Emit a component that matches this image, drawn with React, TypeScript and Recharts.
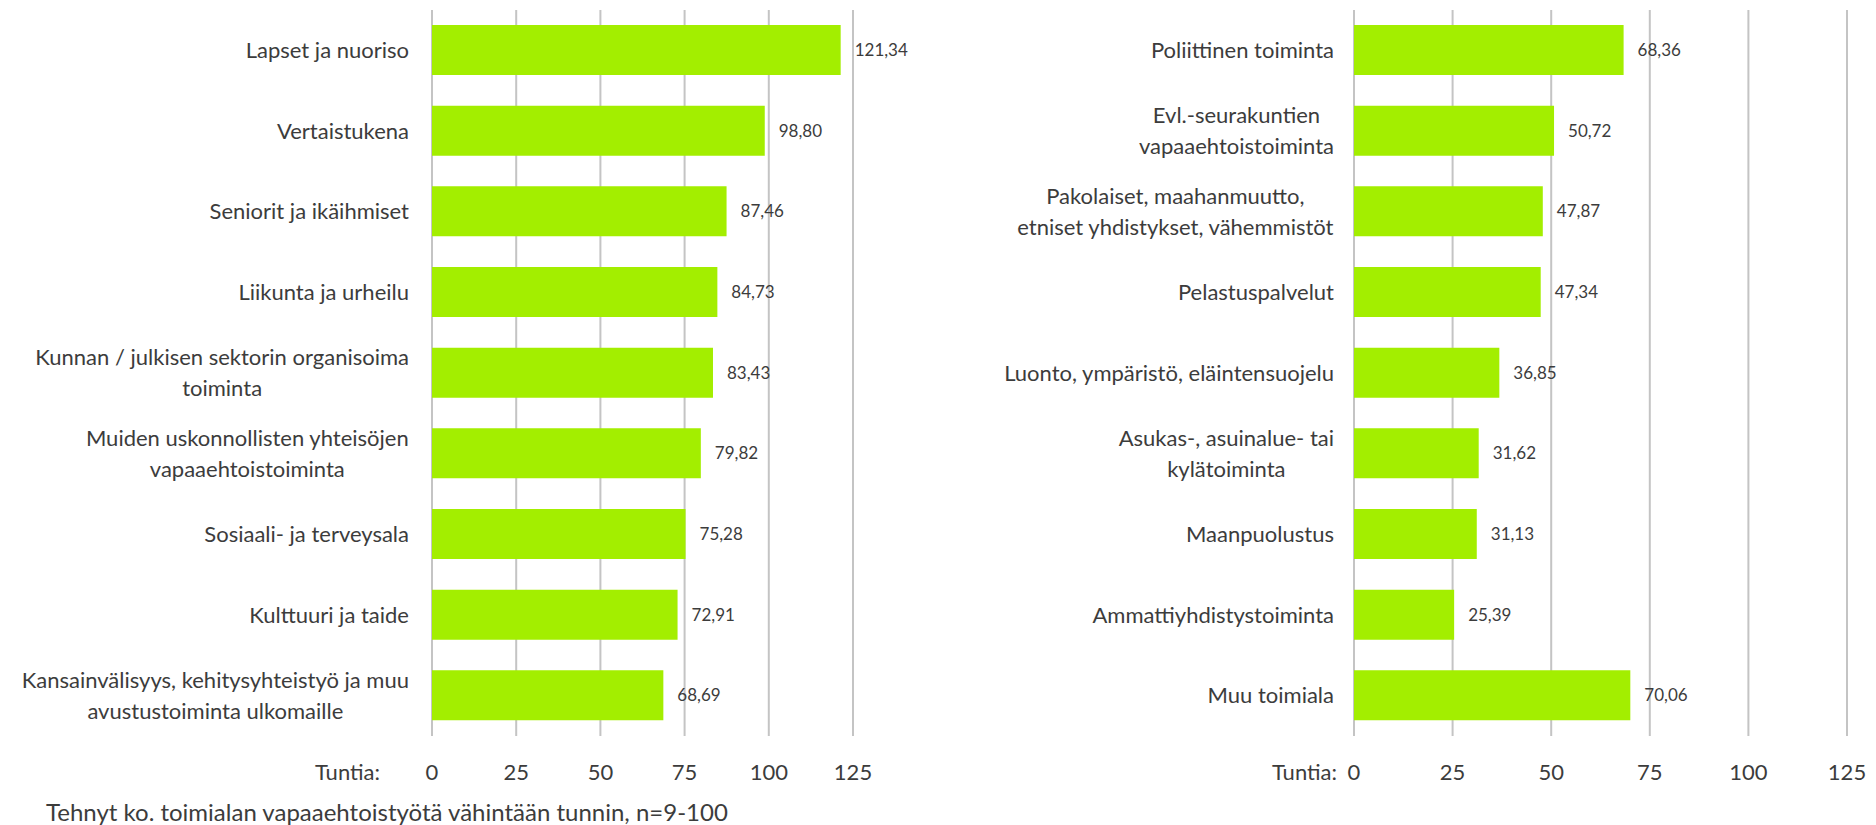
import React from 'react';
import { BarChart, Bar, XAxis, YAxis, CartesianGrid, LabelList } from 'recharts';

const leftCategories = [
  'Lapset ja nuoriso',
  'Vertaistukena',
  'Seniorit ja ikäihmiset',
  'Liikunta ja urheilu',
  'Kunnan / julkisen sektorin organisoima\ntoiminta',
  'Muiden uskonnollisten yhteisöjen\nvapaaehtoistoiminta',
  'Sosiaali- ja terveysala',
  'Kulttuuri ja taide',
  'Kansainvälisyys, kehitysyhteistyö ja muu\navustustoiminta ulkomaille',
];
const leftValues = [121.34, 98.8, 87.46, 84.73, 83.43, 79.82, 75.28, 72.91, 68.69];

const rightCategories = [
  'Poliittinen toiminta',
  'Evl.-seurakuntien\nvapaaehtoistoiminta',
  'Pakolaiset, maahanmuutto,\netniset yhdistykset, vähemmistöt',
  'Pelastuspalvelut',
  'Luonto, ympäristö, eläintensuojelu',
  'Asukas-, asuinalue- tai\nkylätoiminta',
  'Maanpuolustus',
  'Ammattiyhdistystoiminta',
  'Muu toimiala',
];
const rightValues = [68.36, 50.72, 47.87, 47.34, 36.85, 31.62, 31.13, 25.39, 70.06];

const xTicks = [0, 25, 50, 75, 100, 125];
const unitLabel = 'Tuntia:';
const footnote = 'Tehnyt ko. toimialan vapaaehtoistyötä vähintään tunnin, n=9-100';

const FONT = 'Lato, "Open Sans", sans-serif';
const TEXT = '#3c3c3c';
const BAR = '#a3ee00';
const GRID = '#c4c4c4';

let ctx: CanvasRenderingContext2D | null = null;
const measure = (s: string, size: number) => {
  if (!ctx) ctx = document.createElement('canvas').getContext('2d');
  if (!ctx) return s.length * size * 0.5;
  ctx.font = `${size}px Lato`;
  return ctx.measureText(s).width;
};

const CategoryTick = (props: any) => {
  const { x, y, payload } = props;
  const size = 22;
  const lines: string[] = String(payload.value).split('\n');
  if (lines.length === 1) {
    return (
      <text x={x} y={y} dy="0.35em" textAnchor="end" fill={TEXT} fontSize={size} fontFamily={FONT}>
        {lines[0]}
      </text>
    );
  }
  // multi-line labels: lines centred on each other, block right-aligned
  const w = Math.max(...lines.map((l) => measure(l, size)));
  const cx = x - w / 2;
  const lh = 31;
  const y0 = y - ((lines.length - 1) * lh) / 2;
  return (
    <text textAnchor="middle" fill={TEXT} fontSize={size} fontFamily={FONT}>
      {lines.map((l, i) => (
        <tspan key={i} x={cx} y={y0 + i * lh} dy="0.35em">
          {l}
        </tspan>
      ))}
    </text>
  );
};

const makeValueTick = (unitGap: number) => (props: any) => {
  const { x, y, payload } = props;
  return (
    <g>
      <text x={x} y={y} dy="0.71em" textAnchor="middle" fill={TEXT} fontSize={22} fontFamily={FONT}>
        {payload.value}
      </text>
      {payload.value === 0 && (
        <text x={x - unitGap} y={y} dy="0.71em" textAnchor="end" fill={TEXT} fontSize={22} fontFamily={FONT}>
          {unitLabel}
        </text>
      )}
    </g>
  );
};

const fmt = (v: any) => Number(v).toFixed(2).replace('.', ',');

interface PanelProps {
  categories: string[];
  values: number[];
  width: number;
  axisWidth: number;
  right: number;
  labelGap: number;
  unitGap: number;
}

const Panel: React.FC<PanelProps> = ({ categories, values, width, axisWidth, right, labelGap, unitGap }) => {
  const data = categories.map((name, i) => ({ name, value: values[i] }));
  return (
    <BarChart
      width={width}
      height={825}
      data={data}
      layout="vertical"
      margin={{ top: 10, right, left: 0, bottom: 29 }}
    >
      <CartesianGrid horizontal={false} stroke={GRID} strokeWidth={2} />
      <XAxis
        type="number"
        domain={[0, 125]}
        ticks={xTicks}
        axisLine={false}
        tickLine={false}
        tickSize={0}
        tickMargin={28}
        height={60}
        interval={0}
        tick={makeValueTick(unitGap)}
      />
      <YAxis
        type="category"
        dataKey="name"
        width={axisWidth}
        axisLine={false}
        tickLine={false}
        tickSize={0}
        tickMargin={labelGap}
        interval={0}
        tick={<CategoryTick />}
      />
      <Bar dataKey="value" fill={BAR} barSize={50} isAnimationActive={false}>
        <LabelList
          dataKey="value"
          position="right"
          offset={14}
          formatter={fmt}
          fill={TEXT}
          fontSize={17}
          fontFamily={FONT}
        />
      </Bar>
    </BarChart>
  );
};

export default function App() {
  return (
    <div style={{ position: 'absolute', left: 0, top: 0, width: 1876, height: 825, overflow: 'hidden', background: '#fff' }}>
      <style>{'body{margin:0}'}</style>
      <div style={{ position: 'absolute', left: 0, top: 0 }}>
        <Panel
          categories={leftCategories}
          values={leftValues}
          width={920}
          axisWidth={432}
          right={67}
          labelGap={23}
          unitGap={52}
        />
      </div>
      <div style={{ position: 'absolute', left: 940, top: 0 }}>
        <Panel
          categories={rightCategories}
          values={rightValues}
          width={936}
          axisWidth={414}
          right={29}
          labelGap={20}
          unitGap={17}
        />
      </div>
      <div
        style={{
          position: 'absolute',
          left: 46,
          top: 799,
          fontFamily: FONT,
          fontSize: 24,
          lineHeight: '26px',
          color: TEXT,
          whiteSpace: 'nowrap',
        }}
      >
        {footnote}
      </div>
    </div>
  );
}
